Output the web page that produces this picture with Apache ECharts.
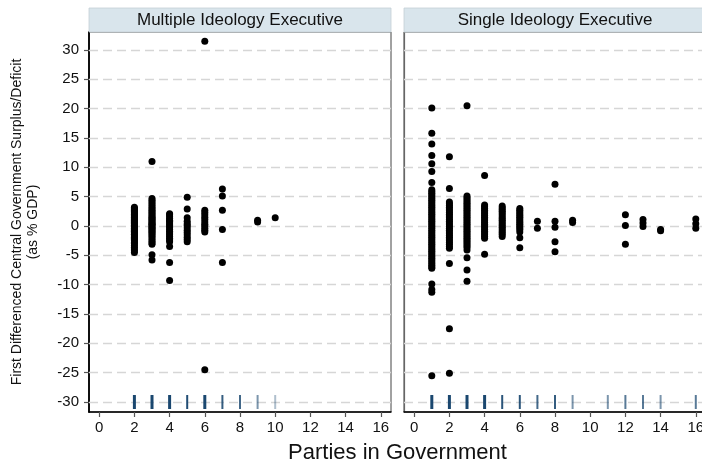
<!DOCTYPE html>
<html>
<head>
<meta charset="utf-8">
<script src="https://cdn.jsdelivr.net/npm/echarts@6/dist/echarts.min.js"></script>
<style>
  html, body { margin: 0; padding: 0; background: #ffffff; }
  #chart { width: 702px; height: 465px; }
</style>
</head>
<body>
<div id="chart"></div>
<script>
// Facet titles and axis tick positions
const panelTitles = ['Multiple Ideology Executive', 'Single Ideology Executive'];
const xTicks = [0, 2, 4, 6, 8, 10, 12, 14, 16];
const yTicks = [-30, -25, -20, -15, -10, -5, 0, 5, 10, 15, 20, 25, 30];
const xTitle = 'Parties in Government';
const yTitle = 'First Differenced Central Government Surplus/Deficit\n(as % GDP)';

// Multiple-ideology executives: observed surplus/deficit changes by number of parties
const multiParties = [2, 3, 4, 5, 6, 7, 9, 10];
const multiDeficit = [
  [3.2, 3.0, 2.8, 2.7, 2.5, 2.3, 2.1, 2.0, 1.8, 1.6, 1.5, 1.3, 1.1, 1.0, 0.8, 0.6, 0.5, 0.4, 0.2, 0.1, 0.0,
   -0.1, -0.3, -0.4, -0.6, -0.7, -0.9, -1.0, -1.2, -1.4, -1.5, -1.7, -1.9, -2.1, -2.3, -2.5, -2.8, -3.0,
   -3.3, -3.6, -3.9, -4.2, -4.5],
  [11.0, 4.7, 4.4, 4.1, 3.8, 3.5, 3.2, 2.9, 2.7, 2.4, 2.2, 1.9, 1.7, 1.5, 1.3, 1.1, 0.9, 0.7, 0.5, 0.3, 0.2,
   0.0, -0.2, -0.4, -0.6, -0.8, -1.0, -1.2, -1.5, -1.7, -2.0, -2.3, -2.6, -2.9, -3.1, -4.9, -5.8],
  [2.1, 1.9, 1.6, 1.3, 1.0, 0.8, 0.5, 0.2, 0.0, -0.3, -0.6, -0.9, -1.2, -1.5, -1.8, -2.1, -2.4, -2.7, -3.5,
   -6.2, -9.3],
  [4.9, 2.9, 1.4, 0.8, 0.4, 0.1, -0.3, -0.7, -1.1, -1.5, -1.9, -2.3, -2.7],
  [31.5, 2.7, 2.3, 1.9, 1.5, 1.1, 0.7, 0.3, 0.0, -0.4, -0.7, -1.0, -24.5],
  [6.3, 5.1, 2.7, -0.6, -6.2],
  [1.0, 0.7],
  [1.4]
];

// Single-ideology executives
const singleParties = [1, 2, 3, 4, 5, 6, 7, 8, 9, 12, 13, 14, 16];
const singleDeficit = [
  [20.1, 15.8, 14.0, 12.0, 10.6, 9.3, 7.4, 6.2, 5.9, 5.6, 5.3, 5.0, 4.7, 4.4, 4.1, 3.8, 3.5, 3.2, 2.9, 2.6,
   2.3, 2.0, 1.7, 1.4, 1.1, 0.8, 0.5, 0.2, -0.1, -0.4, -0.7, -1.0, -1.3, -1.6, -1.9, -2.2, -2.5, -2.8, -3.1,
   -3.4, -3.7, -4.0, -4.3, -4.6, -4.9, -5.2, -5.5, -5.8, -6.1, -6.4, -6.7, -7.0, -7.2, -9.9, -10.8, -11.3,
   -25.5],
  [11.8, 6.4, 4.1, 3.8, 3.5, 3.2, 2.9, 2.6, 2.3, 2.0, 1.7, 1.4, 1.1, 0.8, 0.5, 0.2, -0.1, -0.4, -0.7, -1.0,
   -1.3, -1.6, -1.9, -2.2, -2.5, -2.8, -3.1, -3.5, -3.8, -6.4, -17.5, -25.1],
  [20.5, 5.1, 4.8, 4.5, 4.2, 3.9, 3.6, 3.3, 3.0, 2.7, 2.4, 2.1, 1.8, 1.5, 1.2, 0.9, 0.6, 0.3, 0.0, -0.3,
   -0.6, -0.9, -1.2, -1.5, -1.8, -2.1, -2.4, -2.7, -3.0, -3.3, -3.6, -4.1, -5.4, -7.5, -9.4],
  [8.6, 3.6, 3.3, 3.0, 2.7, 2.4, 2.1, 1.8, 1.5, 1.2, 0.9, 0.6, 0.3, 0.0, -0.3, -0.6, -0.9, -1.2, -1.5, -1.8,
   -2.1, -4.8],
  [3.4, 3.1, 2.8, 2.5, 2.2, 1.9, 1.6, 1.3, 1.0, 0.7, 0.4, 0.1, -0.2, -0.5, -0.8, -1.1, -1.4, -1.8],
  [3.0, 2.7, 2.4, 2.1, 1.8, 1.5, 1.2, 0.9, 0.6, 0.3, 0.0, -0.3, -0.6, -1.0, -2.0, -3.7],
  [0.8, -0.4],
  [7.1, 0.8, -0.2, -2.7, -4.4],
  [1.0, 0.6],
  [1.9, 0.1, -3.1],
  [1.1, 0.5, -0.1],
  [-0.6, -0.8],
  [1.2, 0.4, -0.4]
];

// Rug of governments per party count (all country-years, including those without a deficit value)
const multiRugParties = [2, 3, 4, 5, 6, 7, 8, 9, 10];
const multiRugCount = [60, 60, 30, 8, 14, 5, 4, 2, 1];
const singleRugParties = [1, 2, 3, 4, 5, 6, 7, 8, 9, 11, 12, 13, 14, 16];
const singleRugCount = [120, 50, 50, 25, 6, 6, 4, 5, 2, 2, 3, 3, 2, 3];

const FONT = '"Liberation Sans", Arial, Helvetica, sans-serif';
const RUG_COLOR = '#1a476f';

function points(parties, values) {
  const out = [];
  parties.forEach((p, i) => values[i].forEach(v => out.push([p, v])));
  return out;
}

function rug(parties, counts) {
  return parties.map((p, i) => {
    const n = counts[i];
    return {
      value: [p, -30],
      symbolSize: [n >= 10 ? 3 : 2, 14],
      itemStyle: { opacity: Math.min(1, 1 - Math.pow(0.65, n)) }
    };
  });
}

const panels = [
  { parties: multiParties, values: multiDeficit, rugP: multiRugParties, rugN: multiRugCount, left: 89 },
  { parties: singleParties, values: singleDeficit, rugP: singleRugParties, rugN: singleRugCount, left: 404 }
];

const PLOT_TOP = 32, PLOT_H = 380, PLOT_W = 302, STRIP_H = 24;

const grids = panels.map(p => ({
  left: p.left, top: PLOT_TOP, width: PLOT_W, height: PLOT_H,
  containLabel: false, outerBoundsMode: 'none',
  show: true, borderColor: '#444444', borderWidth: 1, backgroundColor: '#ffffff'
}));

const xAxes = panels.map((p, i) => ({
  gridIndex: i, type: 'value', min: -0.58, max: 16.58,
  axisLine: { show: true, onZero: false, lineStyle: { color: '#000000', width: 1.5 } },
  axisTick: { show: true, length: 5, customValues: xTicks, lineStyle: { color: '#555555', width: 1.2 } },
  axisLabel: { show: true, customValues: xTicks, margin: 8, color: '#111111', fontSize: 15, fontFamily: FONT,
    hideOverlap: false },
  splitLine: { show: false }
}));

const yAxes = panels.map((p, i) => ({
  gridIndex: i, type: 'value', min: -31.7, max: 33.07,
  axisLine: { show: true, onZero: false,
    lineStyle: i === 0 ? { color: '#000000', width: 1.8 } : { color: '#666666', width: 1.2 } },
  axisTick: { show: i === 0, length: 5, customValues: yTicks, lineStyle: { color: '#555555', width: 1.2 } },
  axisLabel: { show: i === 0, customValues: yTicks, margin: 10, color: '#111111', fontSize: 15, fontFamily: FONT },
  splitLine: { show: false },
  name: i === 0 ? yTitle : '',
  nameLocation: 'middle', nameGap: 48, nameRotate: 90,
  nameTextStyle: { fontSize: 14, fontFamily: FONT, color: '#111111', lineHeight: 16 }
}));

const series = [];
panels.forEach((p, i) => {
  // dashed horizontal reference lines at each y tick, kept beneath the marks
  series.push({
    type: 'scatter', xAxisIndex: i, yAxisIndex: i, data: [], silent: true, z: 1,
    markLine: {
      silent: true, symbol: 'none', animation: false, z: 1,
      label: { show: false },
      lineStyle: { color: '#d6d6d6', width: 1.3, type: [9, 5] },
      data: yTicks.map(v => ({ yAxis: v }))
    }
  });
  series.push({
    type: 'scatter', xAxisIndex: i, yAxisIndex: i, z: 3,
    symbol: 'circle', symbolSize: 7,
    itemStyle: { color: '#000000', opacity: 1 },
    data: points(p.parties, p.values)
  });
  series.push({
    type: 'scatter', xAxisIndex: i, yAxisIndex: i, z: 2,
    symbol: 'rect', itemStyle: { color: RUG_COLOR },
    data: rug(p.rugP, p.rugN)
  });
});

// Facet header strips and the shared x-axis title
const graphics = [];
panels.forEach((p, i) => {
  graphics.push({
    type: 'rect', silent: true, z: 10,
    shape: { x: p.left, y: PLOT_TOP - STRIP_H, width: PLOT_W, height: STRIP_H },
    style: { fill: '#d9e5ec', stroke: '#c4cfd6', lineWidth: 0.8 }
  });
  graphics.push({
    type: 'text', silent: true, z: 11,
    x: p.left + PLOT_W / 2, y: PLOT_TOP - STRIP_H / 2,
    style: { text: panelTitles[i], fill: '#111111', font: '17px ' + FONT, align: 'center', verticalAlign: 'middle' }
  });
});
graphics.push({
  type: 'text', silent: true,
  x: (panels[0].left + panels[1].left + PLOT_W) / 2, y: 453,
  style: { text: xTitle, fill: '#111111', font: '22px ' + FONT, align: 'center', verticalAlign: 'middle' }
});

const chart = echarts.init(document.getElementById('chart'), null, { renderer: 'canvas' });
chart.setOption({
  animation: false,
  backgroundColor: '#ffffff',
  grid: grids,
  xAxis: xAxes,
  yAxis: yAxes,
  series: series,
  graphic: graphics
});
</script>
</body>
</html>
